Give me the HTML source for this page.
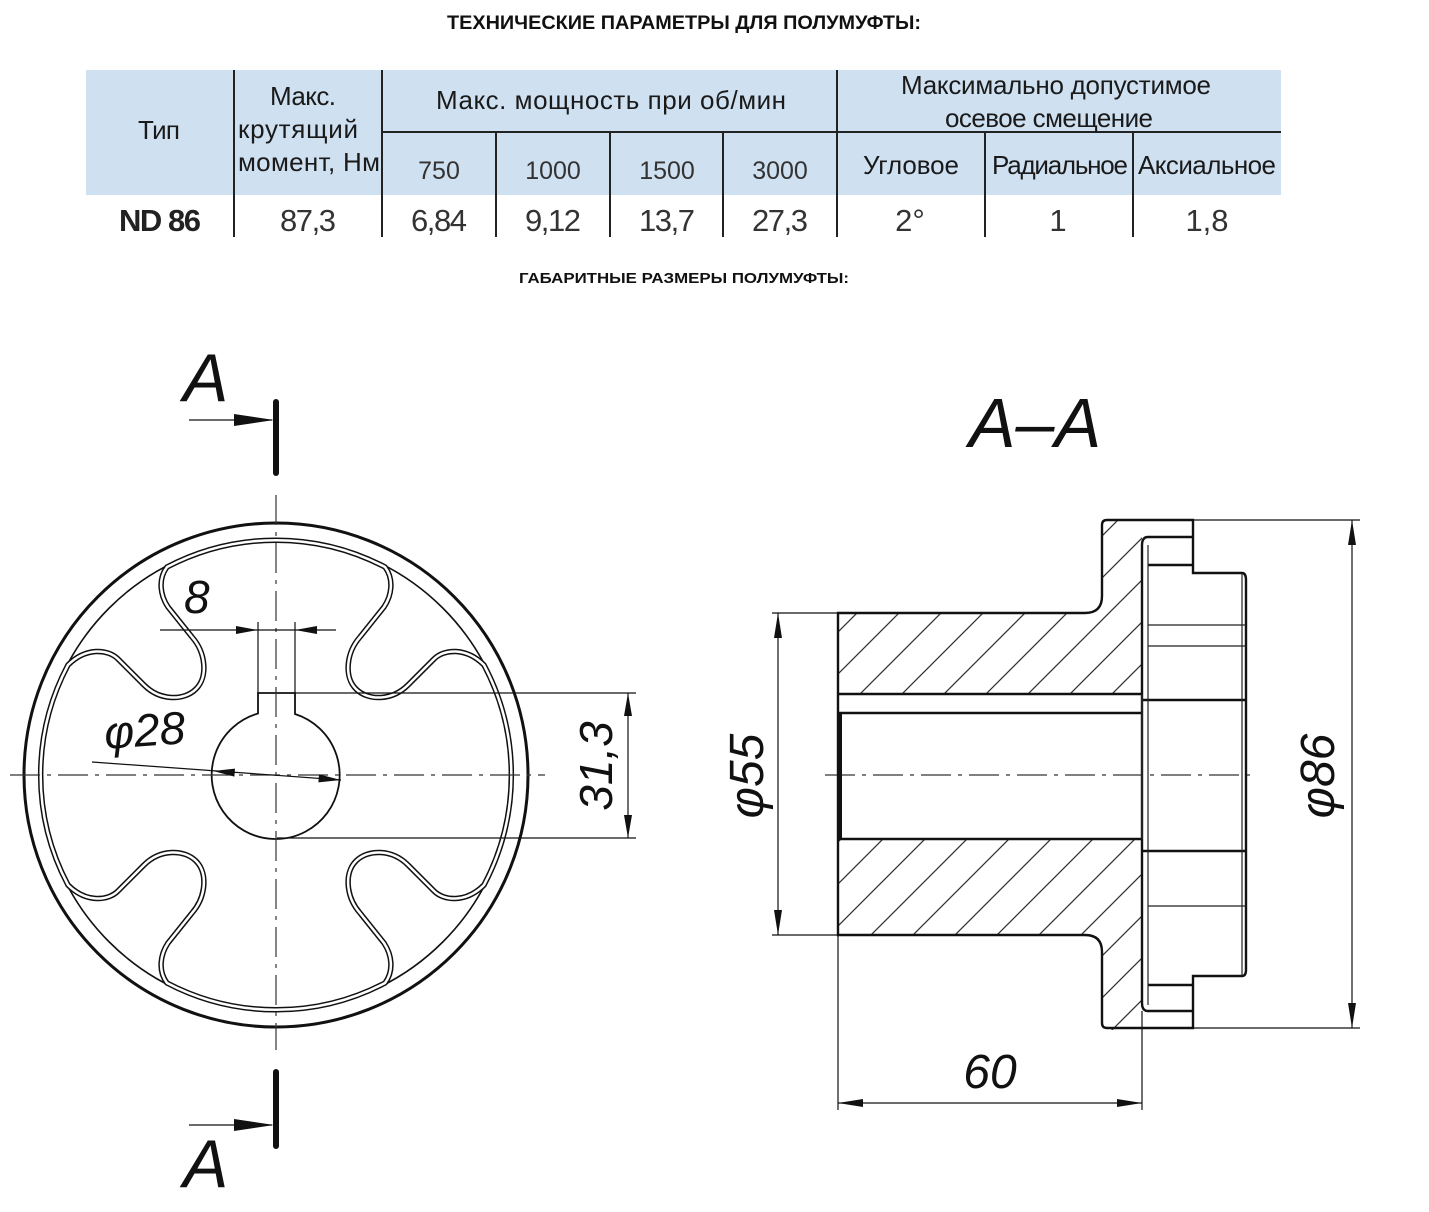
<!DOCTYPE html>
<html><head><meta charset="utf-8"><style>
html,body{margin:0;padding:0;background:#fff}
svg{display:block}
.t{font-family:"Liberation Sans",sans-serif}
.d{font-family:"Liberation Sans",sans-serif;font-style:italic;fill:#111}
</style></head><body>
<svg width="1429" height="1212" viewBox="0 0 1429 1212" xmlns="http://www.w3.org/2000/svg">
<defs>
<pattern id="h" patternUnits="userSpaceOnUse" width="42" height="42">
<path d="M0,42 L42,0 M-10,10 L10,-10 M32,52 L52,32" stroke="#333" stroke-width="1.3"/>
</pattern>
</defs>
<!-- titles -->
<text class="t" x="684" y="29" text-anchor="middle" font-size="19" font-weight="bold" textLength="474" lengthAdjust="spacingAndGlyphs" fill="#111">ТЕХНИЧЕСКИЕ ПАРАМЕТРЫ ДЛЯ ПОЛУМУФТЫ:</text>
<text class="t" x="684" y="283" text-anchor="middle" font-size="15" font-weight="bold" textLength="330" lengthAdjust="spacingAndGlyphs" fill="#111">ГАБАРИТНЫЕ РАЗМЕРЫ ПОЛУМУФТЫ:</text>
<!-- table -->
<rect x="86" y="70" width="1195" height="125" fill="#cfe0f1"/>
<g stroke="#222" stroke-width="2">
<line x1="234" y1="70" x2="234" y2="237"/><line x1="382" y1="70" x2="382" y2="237"/><line x1="837" y1="70" x2="837" y2="237"/>
<line x1="496" y1="132" x2="496" y2="237"/><line x1="610" y1="132" x2="610" y2="237"/><line x1="723" y1="132" x2="723" y2="237"/>
<line x1="985" y1="132" x2="985" y2="237"/><line x1="1133" y1="132" x2="1133" y2="237"/>
<line x1="382" y1="132" x2="1281" y2="132"/>
</g>
<g class="t" fill="#1a1a1a" font-size="26">
<text x="159" y="139" text-anchor="middle" textLength="42">Тип</text>
<text x="303" y="105" text-anchor="middle" textLength="66">Макс.</text>
<text x="238" y="138" textLength="120">крутящий</text>
<text x="238" y="171" textLength="142">момент, Нм</text>
<text x="611" y="109" text-anchor="middle" textLength="350">Макс. мощность при об/мин</text>
<text x="1056" y="94" text-anchor="middle" textLength="310">Максимально допустимое</text>
<text x="1049" y="127" text-anchor="middle" textLength="208">осевое смещение</text>
<text x="911" y="174" text-anchor="middle" textLength="96">Угловое</text>
<text x="1060" y="174" text-anchor="middle" textLength="136">Радиальное</text>
<text x="1207" y="174" text-anchor="middle" textLength="138">Аксиальное</text>
</g>
<g class="t" fill="#333" font-size="25">
<text x="439" y="179" text-anchor="middle">750</text>
<text x="553" y="179" text-anchor="middle">1000</text>
<text x="667" y="179" text-anchor="middle">1500</text>
<text x="780" y="179" text-anchor="middle">3000</text>
</g>
<g class="t" fill="#333" font-size="31">
<text x="160" y="231" text-anchor="middle" font-weight="bold" fill="#222" textLength="82">ND 86</text>
<text x="308" y="231" text-anchor="middle" textLength="56">87,3</text>
<text x="439" y="231" text-anchor="middle" textLength="56">6,84</text>
<text x="553" y="231" text-anchor="middle" textLength="56">9,12</text>
<text x="667" y="231" text-anchor="middle" textLength="56">13,7</text>
<text x="780" y="231" text-anchor="middle" textLength="56">27,3</text>
<text x="910" y="231" text-anchor="middle">2°</text>
<text x="1058" y="231" text-anchor="middle">1</text>
<text x="1207" y="231" text-anchor="middle">1,8</text>
</g>

<!-- LEFT VIEW -->
<g transform="translate(276,775)" fill="none">
<circle r="252" stroke="#111" stroke-width="3"/>
<circle r="236" stroke="#111" stroke-width="1.6"/>
<path d="M-109,-208 C-118,-196 -116,-180 -108,-168 L-84,-138 C-70,-122 -68,-98 -80,-86 C-92,-74 -116,-74 -132,-90 L-158,-116 C-168,-126 -190,-128 -208,-110
A235,235 0 0 0 -208,110
C-190,128 -168,126 -158,116 L-132,90 C-116,74 -92,74 -80,86 C-68,98 -70,122 -84,138 L-108,168 C-116,180 -118,196 -109,208
A235,235 0 0 0 109,208
C118,196 116,180 108,168 L84,138 C70,122 68,98 80,86 C92,74 116,74 132,90 L158,116 C168,126 190,128 208,110
A235,235 0 0 0 208,-110
C190,-128 168,-126 158,-116 L132,-90 C116,-74 92,-74 80,-86 C68,-98 70,-122 84,-138 L108,-168 C116,-180 118,-196 109,-208
A235,235 0 0 0 -109,-208 Z" stroke="#111" stroke-width="5.5"/>
<path d="M-109,-208 C-118,-196 -116,-180 -108,-168 L-84,-138 C-70,-122 -68,-98 -80,-86 C-92,-74 -116,-74 -132,-90 L-158,-116 C-168,-126 -190,-128 -208,-110
A235,235 0 0 0 -208,110
C-190,128 -168,126 -158,116 L-132,90 C-116,74 -92,74 -80,86 C-68,98 -70,122 -84,138 L-108,168 C-116,180 -118,196 -109,208
A235,235 0 0 0 109,208
C118,196 116,180 108,168 L84,138 C70,122 68,98 80,86 C92,74 116,74 132,90 L158,116 C168,126 190,128 208,110
A235,235 0 0 0 208,-110
C190,-128 168,-126 158,-116 L132,-90 C116,-74 92,-74 80,-86 C68,-98 70,-122 84,-138 L108,-168 C116,-180 118,-196 109,-208
A235,235 0 0 0 -109,-208 Z" stroke="#fff" stroke-width="2.5"/>
<path d="M-18,-82 H19 V-61 A64,64 0 1 1 -18,-61.5 Z" stroke="#111" stroke-width="1.8"/>
</g>
<!-- centerlines -->
<g stroke="#333" stroke-width="1.2" stroke-dasharray="30,7,4,7">
<line x1="10" y1="775" x2="545" y2="775"/>
<line x1="276" y1="495" x2="276" y2="1050"/>
<line x1="825" y1="775" x2="1256" y2="775"/>
</g>
<!-- section markers -->
<g stroke="#111">
<line x1="276" y1="402" x2="276" y2="473" stroke-width="6" stroke-linecap="round"/>
<line x1="276" y1="1072" x2="276" y2="1146" stroke-width="6" stroke-linecap="round"/>
<line x1="189" y1="420" x2="272" y2="420" stroke-width="1.3"/>
<line x1="189" y1="1125" x2="272" y2="1125" stroke-width="1.3"/>
</g>
<polygon points="274,420 234,414 234,426" fill="#111"/>
<polygon points="274,1125 234,1119 234,1131" fill="#111"/>
<text class="d" x="183" y="401" font-size="68">A</text>
<text class="d" x="183" y="1187" font-size="68">A</text>
<!-- dims -->
<g stroke="#111" stroke-width="1.2">
<line x1="258" y1="622" x2="258" y2="693"/><line x1="295" y1="622" x2="295" y2="693"/>
<line x1="160" y1="630" x2="336" y2="630"/>
<line x1="92" y1="762" x2="341" y2="780"/>
<line x1="295" y1="693" x2="636" y2="693"/><line x1="277" y1="838" x2="636" y2="838"/>
<line x1="628" y1="693" x2="628" y2="838"/>
</g>
<polygon points="258,630 236,626 236,634" fill="#111"/>
<polygon points="295,630 317,626 317,634" fill="#111"/>
<polygon points="213,771 235,768.6 234.4,776.6" fill="#111"/>
<polygon points="341,780 319,774.4 318.4,782.4" fill="#111"/>
<polygon points="628,693 624,716 632,716" fill="#111"/>
<polygon points="628,838 624,815 632,815" fill="#111"/>
<text class="d" x="184" y="613" font-size="46">8</text>
<text class="d" x="104" y="746" font-size="46" transform="rotate(-4 145 730)">φ28</text>
<text class="d" font-size="46" transform="translate(612,766) rotate(-90)" text-anchor="middle">31,3</text>

<!-- RIGHT SECTION -->
<path d="M838,613 H1085 Q1102,613 1102,596 V520 H1142 V694 H838 Z M838,839 H1142 V1030 H1102 V952 Q1102,935 1085,935 H838 Z" fill="url(#h)"/>
<g fill="none" stroke="#111" stroke-width="2.4">
<path d="M838,613 H1085 Q1102,613 1102,596 V525 Q1102,520 1107,520 H1193 V573 H1242 Q1246,573 1246,580 V970 Q1246,976 1242,976 H1193 V1028 H1107 Q1102,1028 1102,1023 V952 Q1102,935 1085,935 H838 Z"/>
<line x1="838" y1="694" x2="1142" y2="694"/>
<line x1="838" y1="713" x2="1142" y2="713"/>
<line x1="838" y1="839" x2="1142" y2="839"/>
<line x1="840" y1="713" x2="840" y2="839" stroke-width="4"/>
<path d="M1148,537 H1193 M1142,545 Q1142,537 1148,537 M1142,545 V1003 Q1142,1011 1148,1011 H1193"/>
<path d="M1148,565 H1193 M1142,700 H1246 M1142,851 H1246 M1148,985 H1193"/>
</g>
<g fill="none" stroke="#222" stroke-width="1.2">
<line x1="1148" y1="545" x2="1148" y2="1005"/>
<line x1="1242" y1="573" x2="1242" y2="976"/>
<line x1="1148" y1="625" x2="1246" y2="625"/>
<line x1="1148" y1="646" x2="1246" y2="646"/>
<line x1="1148" y1="906" x2="1246" y2="906"/>
<line x1="1142" y1="694" x2="1142" y2="839" stroke-width="2"/>
</g>
<g stroke="#111" stroke-width="1.2">
<line x1="772" y1="613" x2="838" y2="613"/><line x1="772" y1="935" x2="838" y2="935"/>
<line x1="778" y1="613" x2="778" y2="935"/>
<line x1="1193" y1="520" x2="1360" y2="520"/><line x1="1193" y1="1028" x2="1360" y2="1028"/>
<line x1="1352" y1="520" x2="1352" y2="1028"/>
<line x1="838" y1="935" x2="838" y2="1110"/><line x1="1142" y1="1011" x2="1142" y2="1110"/>
<line x1="838" y1="1103" x2="1142" y2="1103"/>
</g>
<polygon points="778,613 774,638 782,638" fill="#111"/>
<polygon points="778,935 774,910 782,910" fill="#111"/>
<polygon points="1352,520 1348,545 1356,545" fill="#111"/>
<polygon points="1352,1028 1348,1003 1356,1003" fill="#111"/>
<polygon points="838,1103 863,1099 863,1107" fill="#111"/>
<polygon points="1142,1103 1117,1099 1117,1107" fill="#111"/>
<text class="d" font-size="48" transform="translate(763,776) rotate(-90)" text-anchor="middle">φ55</text>
<text class="d" font-size="48" transform="translate(1334,776) rotate(-90)" text-anchor="middle">φ86</text>
<text class="d" x="990" y="1088" font-size="48" text-anchor="middle">60</text>
<text class="d" x="1035" y="447" font-size="70" text-anchor="middle">A–A</text>
</svg>
</body></html>
